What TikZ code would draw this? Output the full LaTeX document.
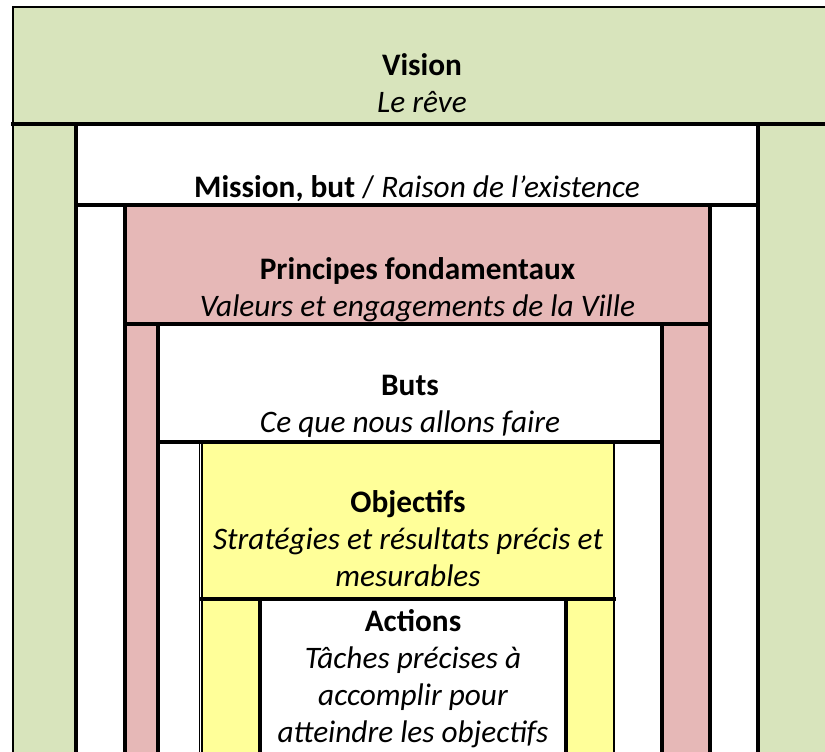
\documentclass[tikz,border=0pt]{standalone}
\usepackage{fontspec}
\setmainfont{Carlito}
\definecolor{vgreen}{HTML}{D8E4BC}
\definecolor{vpink}{HTML}{E6B8B7}
\definecolor{vyellow}{HTML}{FFFF99}
\tikzset{
  lbl/.style={anchor=base, inner sep=0pt, font=\fontsize{31.3}{37}\selectfont},
  ttl/.style={lbl, font=\fontsize{31.3}{37}\selectfont\bfseries},
  sub/.style={lbl, font=\fontsize{31.3}{37}\selectfont\itshape},
  rule/.style={line width=4pt, line cap=rect},
  thinrule/.style={line width=2.2pt},
}
\begin{document}
\begin{tikzpicture}[x=1pt,y=-1pt]
\useasboundingbox (0,0) rectangle (825,752);
\clip (0,0) rectangle (825,752);
% fills
\fill[white] (0,0) rectangle (825,752);
\fill[vgreen] (13,7) rectangle (840,760);
\fill[white] (76,124) rectangle (758,760);
\fill[vpink] (125,205) rectangle (710,760);
\fill[white] (158,324) rectangle (662,760);
\fill[vyellow] (202,442) rectangle (614,760);
\fill[white] (260,599) rectangle (566,760);
% rules
\draw[thinrule] (840,7) -- (13,7) -- (13,760);
\draw[rule] (13,124) -- (840,124);
\draw[rule] (76,124) -- (76,760);
\draw[rule] (758,124) -- (758,760);
\draw[rule] (76,205) -- (758,205);
\draw[rule] (125,205) -- (125,760);
\draw[rule] (710,205) -- (710,760);
\draw[rule] (125,324) -- (710,324);
\draw[rule] (158,324) -- (158,760);
\draw[rule] (662,324) -- (662,760);
\draw[rule] (158,442) -- (662,442);
\draw[line width=1.4pt] (199.3,442) -- (199.3,760);
\draw[line width=1.9pt] (202.4,442) -- (202.4,760);
\draw[line width=2.6pt] (614,442) -- (614,760);
\draw[rule] (202,599) -- (614,599);
\draw[rule] (260,599) -- (260,760);
\draw[rule] (566,599) -- (566,760);
% texts
\node[ttl] (vision) at (422,75) {Vision};
\node[sub] (reve) at (422,112) {Le rêve};
\node[lbl] (mission) at (417,197) {\textbf{Mission, but} / \textit{Raison de l’existence}};
\node[ttl] (principes) at (417.5,279) {Principes fondamentaux};
\node[sub] (valeurs) at (417.5,316) {Valeurs et engagements de la Ville};
\node[ttl] (buts) at (410,395) {Buts};
\node[sub] (cequenous) at (410,432) {Ce que nous allons faire};
\node[ttl] (objectifs) at (408,512) {Objectifs};
\node[sub] (strategies) at (408,549) {Stratégies et résultats précis et};
\node[sub] (mesurables) at (408,586) {mesurables};
\node[ttl] (actions) at (413,631) {Actions};
\node[sub] (taches) at (413,668) {Tâches précises à};
\node[sub] (accomplir) at (413,705) {accomplir pour};
\node[sub] (atteindre) at (413,742) {atteindre les objectifs};
\end{tikzpicture}
\end{document}
